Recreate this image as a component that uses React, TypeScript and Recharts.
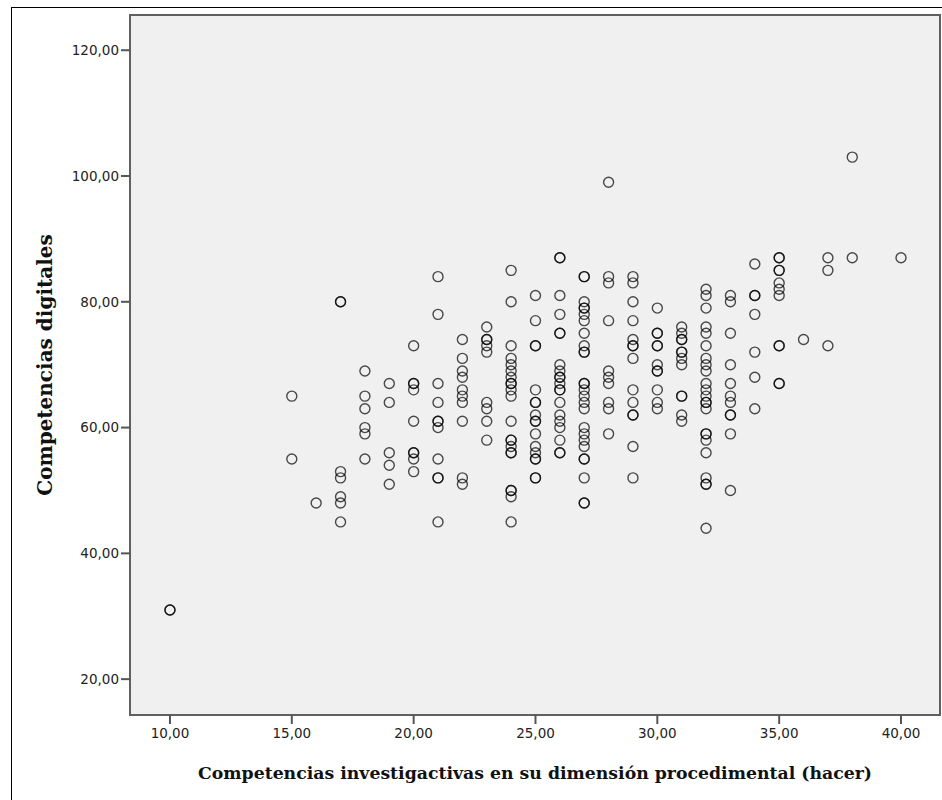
import {
  ScatterChart,
  Scatter,
  XAxis,
  YAxis,
  CartesianGrid,
  ReferenceArea,
  Label,
} from "recharts"

// ─── Data: digital competence scores grouped by procedural score ───────────

const procedural = [10, 15, 16, 17, 18, 19, 20, 21, 22, 23, 24, 25, 26, 27, 28, 29, 30, 31, 32, 33, 34, 35, 36, 37, 38, 40]

const at10 = [31, 31]
const at15 = [65, 55]
const at16 = [48]
const at17 = [80, 80, 53, 52, 49, 48, 45]
const at18 = [69, 65, 63, 60, 59, 55]
const at19 = [67, 64, 56, 54, 51]
const at20 = [73, 67, 67, 66, 61, 56, 56, 55, 53]
const at21 = [84, 78, 67, 64, 61, 61, 60, 55, 52, 52, 45]
const at22 = [74, 71, 69, 68, 66, 65, 64, 61, 52, 51]
const at23 = [76, 74, 74, 73, 72, 64, 63, 61, 58]
const at24 = [85, 80, 73, 71, 70, 69, 68, 67, 67, 66, 65, 61, 58, 58, 57, 56, 56, 50, 50, 49, 45]
const at25 = [81, 77, 73, 73, 66, 64, 64, 62, 61, 61, 59, 57, 56, 55, 55, 52, 52]
const at26 = [87, 87, 81, 78, 75, 75, 70, 69, 68, 68, 67, 66, 66, 64, 62, 61, 60, 58, 56, 56]
const at27 = [84, 84, 80, 79, 79, 78, 77, 75, 73, 72, 72, 67, 67, 66, 65, 64, 63, 60, 59, 58, 57, 55, 55, 52, 48, 48]
const at28 = [99, 84, 83, 77, 69, 68, 67, 64, 63, 59]
const at29 = [84, 83, 80, 77, 74, 73, 73, 71, 66, 64, 62, 62, 57, 52]
const at30 = [79, 75, 75, 73, 73, 70, 69, 69, 66, 64, 63]
const at31 = [76, 75, 74, 74, 72, 72, 71, 70, 65, 65, 62, 61]
const at32 = [82, 81, 79, 76, 75, 73, 71, 70, 69, 67, 66, 65, 64, 64, 63, 59, 59, 58, 56, 52, 51, 51, 44]
const at33 = [81, 80, 75, 70, 67, 65, 64, 62, 62, 59, 50]
const at34 = [86, 81, 81, 78, 72, 68, 63]
const at35 = [87, 87, 85, 85, 83, 82, 81, 73, 73, 67, 67]
const at36 = [74]
const at37 = [87, 85, 73]
const at38 = [103, 87]
const at40 = [87]

const digital = [
  at10, at15, at16, at17, at18, at19, at20, at21, at22, at23, at24, at25, at26,
  at27, at28, at29, at30, at31, at32, at33, at34, at35, at36, at37, at38, at40,
]

const xTicks = [10, 15, 20, 25, 30, 35, 40]
const yTicks = [20, 40, 60, 80, 100, 120]

const points = procedural.flatMap((x, i) => digital[i].map((y) => ({ x, y })))

const X_DOMAIN: [number, number] = [8.36, 41.6]
const Y_DOMAIN: [number, number] = [14.3, 125.6]

const fmt = (v: number) => v.toFixed(2).replace(".", ",")

const tickStyle = { fontSize: 13.5, fill: "#222", fontFamily: "DejaVu Sans" }
const titleStyle = {
  fontSize: 17.3,
  fontWeight: 700,
  fill: "#111",
  fontFamily: "DejaVu Serif",
}

function Ring(props: any) {
  return (
    <circle
      cx={props.cx}
      cy={props.cy}
      r={5}
      fill="none"
      stroke="#000"
      strokeOpacity={0.7}
      strokeWidth={1.4}
    />
  )
}

export default function App() {
  return (
    <div style={{ position: "absolute", left: 0, top: 0, width: 942, height: 800, background: "#fff" }}>
      <svg width={942} height={800} style={{ position: "absolute", left: 0, top: 0 }}>
        <rect x={11.5} y={7.5} width={940} height={800} fill="none" stroke="#000" strokeWidth={1} />
      </svg>
      <div style={{ position: "absolute", left: 0, top: 0 }}>
        <ScatterChart width={942} height={800} margin={{ top: 15, right: 2, bottom: 0, left: 0 }}>
          <CartesianGrid fill="#f0f0f0" horizontal={false} vertical={false} />
          <XAxis
            type="number"
            dataKey="x"
            domain={X_DOMAIN}
            ticks={xTicks}
            tickFormatter={fmt}
            allowDataOverflow
            height={85}
            tickSize={9}
            tickMargin={4}
            tick={tickStyle}
            tickLine={{ stroke: "#555", strokeWidth: 2 }}
            axisLine={false}
          >
            <Label
              value="Competencias investigactivas en su dimensión procedimental (hacer)"
              position="insideBottom"
              offset={21}
              style={titleStyle}
            />
          </XAxis>
          <YAxis
            type="number"
            dataKey="y"
            domain={Y_DOMAIN}
            ticks={yTicks}
            tickFormatter={fmt}
            allowDataOverflow
            width={130}
            tickSize={9}
            tickMargin={2}
            tick={tickStyle}
            tickLine={{ stroke: "#555", strokeWidth: 2 }}
            axisLine={false}
          >
            <Label
              value="Competencias digitales"
              angle={-90}
              position="insideLeft"
              offset={45}
              style={{ ...titleStyle, fontSize: 20, textAnchor: "middle" }}
            />
          </YAxis>
          <ReferenceArea
            x1={X_DOMAIN[0]}
            x2={X_DOMAIN[1]}
            y1={Y_DOMAIN[0]}
            y2={Y_DOMAIN[1]}
            fill="none"
            stroke="#606060"
            strokeWidth={2}
            ifOverflow="visible"
          />
          <Scatter data={points} shape={<Ring />} isAnimationActive={false} />
        </ScatterChart>
      </div>
    </div>
  )
}
